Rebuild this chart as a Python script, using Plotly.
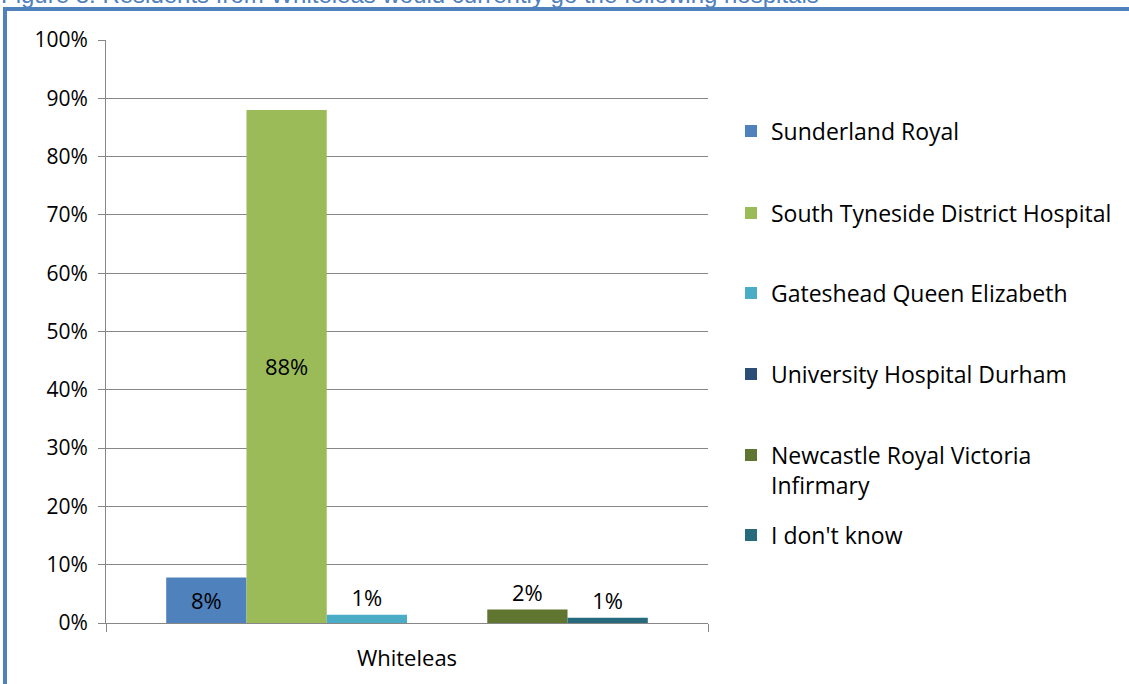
import plotly.graph_objects as go

categories = ["Whiteleas"]
series_names = [
    "Sunderland Royal",
    "South Tyneside District Hospital",
    "Gateshead Queen Elizabeth",
    "University Hospital Durham",
    "Newcastle Royal Victoria<br>Infirmary",
    "I don't know",
]
series_values = [0.078, 0.88, 0.014, 0.0, 0.023, 0.009]
series_labels = ["8%", "88%", "1%", "", "2%", "1%"]
series_colors = ["#4F81BD", "#9BBB59", "#4BACC6", "#2C4D75", "#5F7530", "#276A7C"]
label_positions = ["inside", "inside", "outside", "outside", "outside", "outside"]
y_ticks = [0, 0.1, 0.2, 0.3, 0.4, 0.5, 0.6, 0.7, 0.8, 0.9, 1.0]
title_text = "Figure 8: Residents from Whiteleas would currently go the following hospitals"

W, H = 1129, 684
L, R, T, B = 106, 421, 40, 61
PW, PH = W - L - R, H - T - B

def px_x(p):
    return (p - L) / PW

def px_y(p):
    return (H - B - p) / PH

FONT = "Open Sans"
GRID = "#878787"

legend_centers = [131, 213, 293, 374, 470, 535]

fig = go.Figure()
for i, name in enumerate(series_names):
    lname = "legend" if i == 0 else f"legend{i+1}"
    fig.add_trace(go.Bar(
        x=categories,
        y=[series_values[i]],
        name=name,
        marker=dict(color=series_colors[i], line=dict(width=0)),
        text=[series_labels[i]],
        textposition=label_positions[i],
        insidetextanchor="middle",
        textfont=dict(color="black", size=22, family=FONT),
        constraintext="none",
        cliponaxis=False,
        legend=lname,
        hoverinfo="skip",
    ))

layout_legends = {}
for i, c in enumerate(legend_centers):
    lname = "legend" if i == 0 else f"legend{i+1}"
    layout_legends[lname] = dict(
        x=px_x(731), xanchor="left",
        y=px_y(c), yanchor="middle",
        font=dict(family=FONT, size=23, color="black"),
        bgcolor="rgba(0,0,0,0)",
        valign="top",
        itemclick=False,
    )

fig.update_layout(
    width=W, height=H,
    margin=dict(l=L, r=R, t=T, b=B, pad=0),
    paper_bgcolor="white",
    plot_bgcolor="white",
    barmode="group",
    bargap=0.2,
    bargroupgap=0,
    font=dict(family=FONT, size=20, color="black"),
    showlegend=True,
    xaxis=dict(
        type="category",
        showgrid=False,
        showline=True,
        linecolor=GRID,
        linewidth=1,
        ticks="outside",
        tickson="boundaries",
        ticklen=8,
        tickcolor=GRID,
        tickfont=dict(family=FONT, size=22, color="black"),
        ticklabelstandoff=16,
    ),
    yaxis=dict(
        range=[0, 1.0],
        tickvals=y_ticks,
        tickformat=".0%",
        showgrid=True,
        gridcolor=GRID,
        gridwidth=1,
        zeroline=False,
        showline=True,
        linecolor=GRID,
        linewidth=1,
        ticks="outside",
        ticklen=7,
        tickcolor=GRID,
        tickfont=dict(family=FONT, size=21, color="black"),
        ticklabelstandoff=6,
    ),
    **layout_legends,
)

# frame lines (top and left) of the figure box
fig.add_shape(type="line", xref="paper", yref="paper",
              x0=px_x(3), x1=px_x(W + 5), y0=px_y(9), y1=px_y(9),
              line=dict(color="#4F81BD", width=4), layer="above")
fig.add_shape(type="line", xref="paper", yref="paper",
              x0=px_x(5), x1=px_x(5), y0=px_y(7), y1=px_y(H + 5),
              line=dict(color="#4F81BD", width=4), layer="above")

# caption cut off at top edge
fig.add_annotation(
    text=title_text, xref="paper", yref="paper",
    x=px_x(-1), xanchor="left",
    y=px_y(10), yanchor="bottom",
    showarrow=False,
    font=dict(family="Liberation Sans", size=24, color="#4F81BD"),
)

fig.write_html(
    "out.html",
    config={"displayModeBar": False},
    post_script="document.body.style.margin='0px';document.body.style.overflow='hidden';",
)
